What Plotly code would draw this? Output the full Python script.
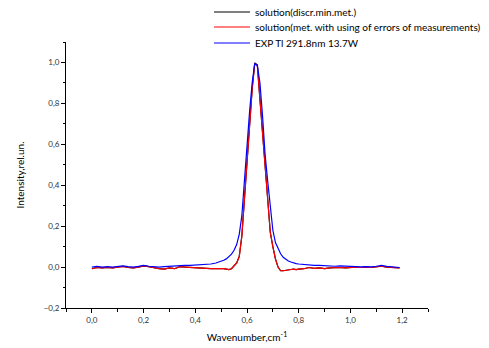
import plotly.graph_objects as go

x = [0.00, 0.02, 0.04, 0.06, 0.08, 0.10, 0.12, 0.14, 0.16, 0.18, 0.20, 0.22, 0.24, 0.26, 0.28, 0.30,
     0.32, 0.34, 0.36, 0.38, 0.40, 0.42, 0.44, 0.46, 0.48,
     0.50, 0.51, 0.52, 0.53, 0.54, 0.55, 0.56, 0.57, 0.58, 0.59, 0.60, 0.61, 0.62, 0.63, 0.64, 0.65,
     0.66, 0.67, 0.68, 0.69, 0.70, 0.71, 0.72, 0.73, 0.74, 0.75, 0.76, 0.77, 0.78, 0.79, 0.80,
     0.82, 0.84, 0.86, 0.88, 0.90, 0.92, 0.94, 0.96, 0.98, 1.00, 1.02, 1.04, 1.06, 1.08, 1.10,
     1.12, 1.14, 1.16, 1.18, 1.19]

exp_tl = [0.000, 0.003, 0.000, 0.002, 0.000, 0.002, 0.006, 0.002, 0.000, 0.003, 0.008, 0.004, 0.001, 0.000, 0.002, 0.004,
          0.003, 0.008, 0.008, 0.008, 0.009, 0.010, 0.012, 0.015, 0.020,
          0.027, 0.033, 0.040, 0.050, 0.063, 0.082, 0.110, 0.160, 0.250, 0.420, 0.600, 0.760, 0.900, 0.995, 0.985, 0.900,
          0.740, 0.550, 0.420, 0.280, 0.180, 0.120, 0.090, 0.065, 0.048, 0.038, 0.030, 0.025, 0.020, 0.017, 0.015,
          0.012, 0.010, 0.008, 0.008, 0.006, 0.004, 0.004, 0.006, 0.004, 0.002, 0.002, 0.001, 0.002, 0.001, 0.004,
          0.008, 0.003, 0.002, 0.000, -0.002]

sol_err = [-0.008, -0.002, -0.004, -0.002, -0.004, -0.001, 0.003, -0.002, -0.004, 0.000, 0.006, 0.002, -0.004, -0.008, -0.010, -0.004,
           -0.008, 0.002, 0.000, -0.002, -0.004, -0.006, -0.006, -0.008, -0.008,
           -0.006, -0.008, -0.010, -0.012, -0.008, 0.005, 0.020, 0.050, 0.150, 0.330, 0.520, 0.700, 0.870, 0.995, 0.985, 0.820,
           0.660, 0.460, 0.300, 0.170, 0.100, 0.040, 0.000, -0.018, -0.018, -0.015, -0.012, -0.012, -0.010, -0.012, -0.010,
           -0.008, -0.002, -0.006, -0.004, -0.008, -0.004, -0.002, -0.002, -0.004, -0.002, 0.000, -0.002, 0.000, -0.002, 0.002,
           0.004, 0.000, -0.002, -0.002, -0.004]

sol_discr = [-0.008, -0.002, -0.004, -0.002, -0.004, -0.001, 0.003, -0.002, -0.004, 0.000, 0.006, 0.002, -0.004, -0.008, -0.010, -0.004,
             -0.008, 0.002, 0.000, -0.002, -0.004, -0.006, -0.006, -0.008, -0.008,
             -0.006, -0.008, -0.010, -0.012, -0.008, 0.004, 0.020, 0.052, 0.152, 0.330, 0.520, 0.700, 0.870, 0.998, 0.988, 0.822,
             0.662, 0.460, 0.300, 0.170, 0.100, 0.040, 0.000, -0.018, -0.018, -0.015, -0.012, -0.012, -0.010, -0.012, -0.010,
             -0.008, -0.002, -0.006, -0.004, -0.008, -0.004, -0.002, -0.002, -0.004, -0.002, 0.000, -0.002, 0.000, -0.002, 0.002,
             0.004, 0.000, -0.002, -0.002, -0.004]

names = ["solution(discr.min.met.)",
         "solution(met. with using of errors of measurements)",
         "EXP Tl 291.8nm 13.7W"]
colors = ["#000000", "#ff0000", "#0000ff"]
series = [sol_discr, sol_err, exp_tl]

font_family = "Lato, 'Open Sans', sans-serif"

fig = go.Figure()
for n, c, s in zip(names, colors, series):
    fig.add_trace(go.Scatter(x=x, y=s, mode="lines", name=n, showlegend=False,
                             line=dict(color=c, width=1.2)))

# manual legend (compact row spacing like the reference)
L, T, W, H = 66, 42, 362, 266
legend_rows_px = [12, 27, 43]
for n, c, ypx in zip(names, colors, legend_rows_px):
    yp = (308 - ypx) / H
    fig.add_shape(type="line", xref="paper", yref="paper",
                  x0=(214 - L) / W, x1=(250 - L) / W, y0=yp, y1=yp,
                  line=dict(color=c, width=1))
    fig.add_annotation(xref="paper", yref="paper", x=(253 - L) / W, y=yp,
                       xanchor="left", yanchor="middle", text=n, showarrow=False,
                       font=dict(size=10, family=font_family, color="#000000"))

fig.update_layout(
    width=489, height=348,
    margin=dict(l=L, r=489 - L - W, t=T, b=348 - T - H, autoexpand=False),
    paper_bgcolor="white", plot_bgcolor="white",
    separators=",.",
    font=dict(family=font_family, size=9, color="#000000"),
    showlegend=False,
    xaxis=dict(range=[-0.1, 1.3], tick0=0, dtick=0.2, tickformat=".1f", automargin=False,
               showgrid=False, zeroline=False, showline=True, linecolor="black", linewidth=1,
               ticks="outside", ticklen=4, tickcolor="black",
               minor=dict(dtick=0.1, ticks="outside", ticklen=2.5, tickcolor="black", showgrid=False),
               tickfont=dict(size=8, color="#333333"),
               title=dict(text="Wavenumber,cm<sup>-1</sup>", font=dict(size=10), standoff=10)),
    yaxis=dict(range=[-0.2, 1.1], tick0=0, dtick=0.2, tickformat=".1f", automargin=False,
               showgrid=False, zeroline=False, showline=True, linecolor="black", linewidth=1,
               ticks="outside", ticklen=4, tickcolor="black",
               minor=dict(dtick=0.1, ticks="outside", ticklen=2.5, tickcolor="black", showgrid=False),
               tickfont=dict(size=8, color="#333333"),
               title=dict(text="Intensity,rel.un.", font=dict(size=10), standoff=17)),
)

fig.write_html("out.html", config={"displayModeBar": False},
               post_script="document.body.style.margin='0';document.body.style.padding='0';")
